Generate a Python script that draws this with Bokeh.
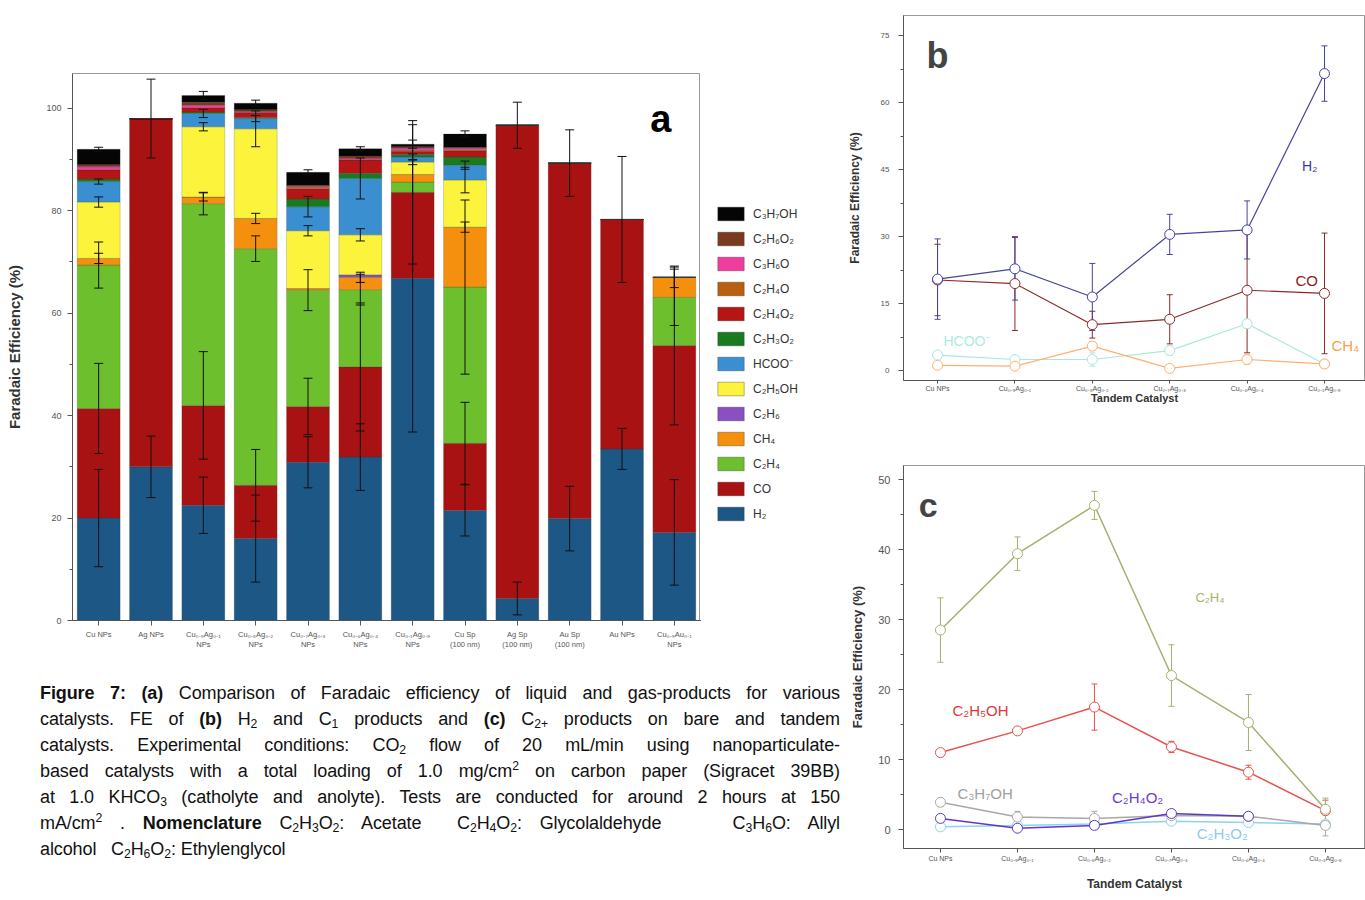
from bokeh.plotting import figure
from bokeh.models import (ColumnDataSource, FactorRange, Range1d, Legend, LegendItem,
                          Whisker, TeeHead, SingleIntervalTicker, FixedTicker, Div, Label)
from bokeh.layouts import row, column
from bokeh.embed import file_html
from bokeh.resources import INLINE

# ---------------- Panel a data ----------------
catalysts_a = ["Cu NPs", "Ag NPs", "Cu₀.₉Ag₀.₁\nNPs", "Cu₀.₈Ag₀.₂\nNPs", "Cu₀.₇Ag₀.₃\nNPs",
               "Cu₀.₆Ag₀.₄\nNPs", "Cu₀.₁Ag₀.₉\nNPs", "Cu Sp\n(100 nm)", "Ag Sp\n(100 nm)",
               "Au Sp\n(100 nm)", "Au NPs", "Cu₀.₉Au₀.₁\nNPs"]
fe_h2     = [20.0, 30.0, 22.5, 16.0, 30.9, 31.9, 66.8, 21.5, 4.3, 19.9, 33.5, 17.2]
fe_co     = [21.4, 68.0, 19.5, 10.4, 10.9, 17.6, 16.8, 13.1, 92.4, 69.4, 44.8, 36.5]
fe_c2h4   = [28.0, 0, 39.4, 46.2, 22.7, 15.1, 2.0, 30.5, 0, 0, 0, 9.4]
fe_ch4    = [1.3, 0, 1.3, 5.9, 0.3, 2.4, 1.5, 11.7, 0, 0, 0, 3.9]
fe_c2h6   = [0, 0, 0, 0, 0, 0.5, 0, 0, 0, 0, 0, 0]
fe_c2h5oh = [11.0, 0, 13.7, 17.5, 11.3, 7.8, 2.4, 9.2, 0, 0, 0, 0]
fe_hcoo   = [4.0, 0, 2.6, 2.0, 4.7, 11.0, 1.0, 2.9, 0, 0, 0, 0]
fe_c2h3o2 = [0.5, 0, 0.3, 0.2, 1.5, 1.0, 0.5, 1.6, 0, 0, 0, 0]
fe_c2h4o2 = [1.8, 0, 0.8, 1.0, 2.0, 2.6, 0.6, 1.2, 0, 0, 0, 0]
fe_c2h4o  = [0, 0, 0, 0, 0.3, 0, 0.2, 0.2, 0, 0, 0, 0]
fe_c3h6o  = [0.6, 0, 0.5, 0.2, 0.2, 0.3, 0.4, 0.3, 0, 0, 0, 0]
fe_c2h6o2 = [0.4, 0, 0.6, 0.3, 0.2, 0.5, 0.3, 0.2, 0, 0, 0, 0]
fe_c3h7oh = [3.0, 0, 1.3, 1.3, 2.5, 1.4, 0.5, 2.6, 0, 0, 0, 0]

err_h2     = [9.5, 6.0, 5.5, 8.5, 5.0, 6.5, 30.0, 5.0, 3.2, 6.3, 4.0, 10.3]
err_co     = [8.8, 7.7, 10.5, 7.0, 5.5, 12.5, 14.0, 8.0, 4.5, 6.5, 12.3, 15.5]
err_c2h4   = [4.5, 0, 2.2, 2.5, 4.0, 3.0, 0, 17.0, 0, 0, 0, 5.5]
err_ch4    = [1.0, 0, 0.8, 1.0, 0, 1.0, 0, 1.0, 0, 0, 0, 2.0]
err_c2h5oh = [1.0, 0, 0.8, 3.5, 1.0, 1.2, 0.5, 2.5, 0, 0, 0, 0]
err_hcoo   = [0.5, 0, 0.8, 0.6, 2.0, 4.0, 0.6, 0.8, 0, 0, 0, 0]
err_c3h7oh = [0.4, 0, 0.8, 0.6, 0.5, 0.4, 0.8, 0.6, 0, 0, 0, 0]

products = ["H2", "CO", "C2H4", "CH4", "C2H6", "C2H5OH", "HCOO", "C2H3O2",
            "C2H4O2", "C2H4O", "C3H6O", "C2H6O2", "C3H7OH"]
product_labels = ["H₂", "CO", "C₂H₄", "CH₄", "C₂H₆", "C₂H₅OH", "HCOO⁻", "C₂H₃O₂",
                  "C₂H₄O₂", "C₂H₄O", "C₃H₆O", "C₂H₆O₂", "C₃H₇OH"]
product_colors = ["#1d5785", "#a81212", "#6dbf2e", "#f5900f", "#8a4fc0", "#fbf33c", "#3a8fd0",
                  "#1a7a22", "#b51515", "#b8600f", "#f03c9c", "#7a3b1c", "#050505"]
values_a = [fe_h2, fe_co, fe_c2h4, fe_ch4, fe_c2h6, fe_c2h5oh, fe_hcoo, fe_c2h3o2,
            fe_c2h4o2, fe_c2h4o, fe_c3h6o, fe_c2h6o2, fe_c3h7oh]
errors_a = {"H2": err_h2, "CO": err_co, "C2H4": err_c2h4, "CH4": err_ch4,
            "C2H5OH": err_c2h5oh, "HCOO": err_hcoo, "C3H7OH": err_c3h7oh}

# ---------------- Panel b data ----------------
tandem_labels = ["Cu NPs", "Cu₀.₉Ag₀.₁", "Cu₀.₈Ag₀.₂", "Cu₀.₇Ag₀.₃", "Cu₀.₆Ag₀.₄", "Cu₀.₁Ag₀.₉"]
b_h2 = [20.5, 22.8, 16.5, 30.5, 31.5, 66.5]
b_h2_err = [9.0, 7.0, 7.5, 4.5, 6.5, 6.2]
b_co = [20.3, 19.5, 10.3, 11.5, 18.0, 17.3]
b_co_err = [8.0, 10.5, 3.0, 5.5, 14.0, 13.5]
b_hcoo = [3.5, 2.5, 2.5, 4.5, 10.5, 1.5]
b_hcoo_err = [0.5, 0.5, 1.5, 1.0, 1.0, 0.5]
b_ch4 = [1.2, 1.0, 5.5, 0.5, 2.5, 1.5]
b_ch4_err = [0.5, 0.5, 1.0, 0.8, 1.0, 0.5]

# ---------------- Panel c data ----------------
c_c2h4 = [28.5, 39.4, 46.3, 22.0, 15.3, 2.9]
c_c2h4_err = [4.6, 2.4, 2.0, 4.4, 4.0, 1.6]
c_c2h5oh = [11.0, 14.1, 17.5, 11.8, 8.2, 2.7]
c_c2h5oh_err = [0.5, 0.5, 3.3, 0.8, 1.0, 1.5]
c_c3h7oh = [3.9, 1.8, 1.6, 2.0, 1.9, 0.6]
c_c3h7oh_err = [0.6, 0.8, 1.0, 0.5, 0.5, 1.5]
c_c2h4o2 = [1.6, 0.2, 0.6, 2.3, 1.9, float("nan")]
c_c2h4o2_err = [0.5, 0.4, 0.4, 0.5, 0.3, 0]
c_c2h3o2 = [0.4, 0.6, 0.8, 1.2, 1.0, 0.8]
c_c2h3o2_err = [0.3, 0.3, 0.3, 0.3, 0.3, 0.3]

FONT = "Liberation Sans"
AX = "#555555"

# ================= Panel a =================
src_a = ColumnDataSource(dict(cat=catalysts_a, **{k: v for k, v in zip(products, values_a)}))
p_a = figure(width=700, height=670, x_range=FactorRange(*catalysts_a, range_padding=0),
             y_range=Range1d(0, 106.8), output_backend="svg", toolbar_location=None,
             min_border_left=72, min_border_right=0, min_border_top=73, min_border_bottom=50)
rs = p_a.vbar_stack(products, x="cat", width=0.82, color=product_colors, source=src_a,
                    line_color="#333333", line_alpha=0.35, line_width=0.6)

cum = [0.0] * len(catalysts_a)
for key, vals in zip(products, values_a):
    cum = [c + v for c, v in zip(cum, vals)]
    if key in errors_a:
        errs = errors_a[key]
        idx = [i for i in range(len(catalysts_a)) if errs[i] > 0]
        ws = ColumnDataSource(dict(x=[catalysts_a[i] for i in idx],
                                   up=[cum[i] + errs[i] for i in idx],
                                   lo=[cum[i] - errs[i] for i in idx]))
        p_a.add_layout(Whisker(source=ws, base="x", upper="up", lower="lo", dimension="height",
                               level="annotation", line_color="#111111", line_width=1,
                               upper_head=TeeHead(size=9, line_color="#111111", line_width=1),
                               lower_head=TeeHead(size=9, line_color="#111111", line_width=1)))

p_a.yaxis.ticker = SingleIntervalTicker(interval=20, num_minor_ticks=2)
p_a.yaxis.axis_label = "Faradaic Efficiency (%)"
p_a.yaxis.axis_label_text_font_size = "15px"
p_a.yaxis.axis_label_standoff = 20
p_a.yaxis.major_label_standoff = 6
p_a.xaxis.major_label_text_font_size = "7.5px"
p_a.xaxis.major_label_standoff = 4
p_a.yaxis.major_label_text_font_size = "9px"
p_a.add_layout(Label(x=11.24, y=98, text="a", text_font=FONT, text_font_style="bold",
                     text_font_size="38px", text_align="center", text_baseline="middle",
                     text_color="#000000"))

# legend for panel a, in its own strip to the right of the frame
p_leg = figure(width=140, height=670, x_range=Range1d(0, 1), y_range=Range1d(0, 1),
               output_backend="svg", toolbar_location=None, min_border=0,
               min_border_top=73, min_border_bottom=50, min_border_left=0, min_border_right=0)
p_leg.axis.visible = False
p_leg.grid.visible = False
p_leg.outline_line_color = None
proxy = ColumnDataSource(dict(x=[-5.0], top=[0.0]))   # legend proxies, kept outside the view
leg_renderers = [p_leg.vbar(x="x", top="top", width=0.5, source=proxy, fill_color=c,
                            line_color="#333333", line_alpha=0.35)
                 for c in product_colors]
legend = Legend(items=[LegendItem(label=product_labels[i], renderers=[leg_renderers[i]])
                       for i in reversed(range(len(products)))],
                location=(14, 98), ncols=1, border_line_color=None, background_fill_alpha=0,
                glyph_width=33, glyph_height=17, label_height=17, spacing=8, padding=0,
                margin=0, label_standoff=6, label_text_font_size="12px",
                label_text_font=FONT, label_text_color="#333333")
p_leg.add_layout(legend)

# ================= Panel b =================
p_b = figure(width=525, height=440, x_range=Range1d(-0.44, 5.53), y_range=Range1d(-2.2, 79.5),
             output_backend="svg", toolbar_location=None,
             min_border_left=53, min_border_right=0, min_border_top=15, min_border_bottom=60)
xs6 = list(range(len(tandem_labels)))
b_series = [(b_hcoo, b_hcoo_err, "#a8e8dc"), (b_ch4, b_ch4_err, "#ffb070"),
            (b_co, b_co_err, "#8b2a2a"), (b_h2, b_h2_err, "#45459e")]
for ys, es, col in b_series:
    p_b.line(xs6, ys, line_color=col, line_width=1.2)
    ws = ColumnDataSource(dict(x=xs6, up=[y + e for y, e in zip(ys, es)], lo=[y - e for y, e in zip(ys, es)]))
    p_b.add_layout(Whisker(source=ws, base="x", upper="up", lower="lo", dimension="height",
                           line_color=col, line_width=1,
                           upper_head=TeeHead(size=6, line_color=col, line_width=1),
                           lower_head=TeeHead(size=6, line_color=col, line_width=1)))
    p_b.scatter(xs6, ys, size=10, marker="circle", fill_color="white", line_color=col, line_width=1)
p_b.yaxis.ticker = SingleIntervalTicker(interval=15, num_minor_ticks=2)
p_b.xaxis.ticker = FixedTicker(ticks=xs6)
p_b.xaxis.major_label_overrides = {i: t for i, t in enumerate(tandem_labels)}
p_b.yaxis.axis_label = "Faradaic Efficiency (%)"
p_b.xaxis.axis_label = "Tandem Catalyst"
p_b.yaxis.axis_label_text_font_size = "12px"
p_b.xaxis.axis_label_text_font_size = "11px"
p_b.xaxis.major_label_text_font_size = "7px"
p_b.yaxis.major_label_text_font_size = "8px"
p_b.yaxis.major_label_standoff = 9
p_b.yaxis.axis_label_standoff = 16
p_b.xaxis.major_tick_out = 3
p_b.xaxis.major_label_standoff = 1
p_b.xaxis.axis_label_standoff = -3
for txt, x, y, col, fs in [("H₂", 4.81, 45.9, "#3a3a9a", "14px"), ("CO", 4.77, 20.1, "#8b1a1a", "15px"),
                           ("HCOO⁻", 0.38, 6.7, "#a8ece0", "14px")]:
    p_b.add_layout(Label(x=x, y=y, text=txt, text_color=col, text_font=FONT, text_font_size=fs,
                         text_align="center", text_baseline="middle"))
p_b.add_layout(Label(x=5.09, y=5.6, text="CH₄", text_color="#f5a050", text_font=FONT,
                     text_font_size="15px", text_align="left", text_baseline="middle"))
p_b.add_layout(Label(x=0.0, y=70.5, text="b", text_font=FONT, text_font_style="bold",
                     text_font_size="36px", text_align="center", text_baseline="middle"))

# ================= Panel c =================
p_c = figure(width=525, height=460, x_range=Range1d(-0.48, 5.52), y_range=Range1d(-2.7, 52.0),
             output_backend="svg", toolbar_location=None,
             min_border_left=63, min_border_right=0, min_border_top=25, min_border_bottom=52)
c_series = [(c_c2h3o2, c_c2h3o2_err, "#90d0f0"), (c_c3h7oh, c_c3h7oh_err, "#a8a8a8"),
            (c_c2h4o2, c_c2h4o2_err, "#5b3bc4"), (c_c2h5oh, c_c2h5oh_err, "#e8524f"),
            (c_c2h4, c_c2h4_err, "#a3b26e")]
for ys, es, col in c_series:
    p_c.line(xs6, ys, line_color=col, line_width=1.5)
    keep = [i for i in xs6 if es[i] > 0 and ys[i] == ys[i]]
    ws = ColumnDataSource(dict(x=keep, up=[ys[i] + es[i] for i in keep], lo=[ys[i] - es[i] for i in keep]))
    p_c.add_layout(Whisker(source=ws, base="x", upper="up", lower="lo", dimension="height",
                           line_color=col, line_width=1,
                           upper_head=TeeHead(size=6, line_color=col, line_width=1),
                           lower_head=TeeHead(size=6, line_color=col, line_width=1)))
    p_c.scatter(xs6, ys, size=10, marker="circle", fill_color="white", line_color=col, line_width=1)
p_c.yaxis.ticker = SingleIntervalTicker(interval=10, num_minor_ticks=2)
p_c.xaxis.ticker = FixedTicker(ticks=xs6)
p_c.xaxis.major_label_overrides = {i: t for i, t in enumerate(tandem_labels)}
p_c.yaxis.axis_label = "Faradaic Efficiency (%)"
p_c.xaxis.axis_label = "Tandem Catalyst"
p_c.yaxis.axis_label_text_font_size = "13px"
p_c.xaxis.axis_label_text_font_size = "12px"
p_c.xaxis.major_label_text_font_size = "7px"
p_c.yaxis.major_label_text_font_size = "11px"
p_c.yaxis.major_label_standoff = 8
p_c.yaxis.axis_label_standoff = 10
p_c.xaxis.major_tick_out = 4
p_c.xaxis.major_label_standoff = 2
p_c.xaxis.axis_label_standoff = 12
for txt, x, y, col, fs in [("C₂H₄", 3.5, 33.1, "#a3b26e", "13px"), ("C₂H₅OH", 0.52, 17.0, "#e03838", "15px"),
                           ("C₃H₇OH", 0.58, 5.1, "#a0a0a0", "15px"), ("C₂H₄O₂", 2.56, 4.6, "#6a3cc8", "15px"),
                           ("C₂H₃O₂", 3.66, -0.6, "#8ccbf0", "15px")]:
    p_c.add_layout(Label(x=x, y=y, text=txt, text_color=col, text_font=FONT, text_font_size=fs,
                         text_align="center", text_baseline="middle"))
p_c.add_layout(Label(x=-0.16, y=46.3, text="c", text_font=FONT, text_font_style="bold",
                     text_font_size="34px", text_align="center", text_baseline="middle"))

# common styling
for p in (p_a, p_b, p_c):
    p.xgrid.visible = False
    p.ygrid.visible = False
    p.outline_line_color = "#999999"
    p.background_fill_color = "white"
    p.border_fill_color = "white"
    for ax in (p.xaxis, p.yaxis):
        ax.axis_line_color = AX
        ax.major_tick_line_color = AX
        ax.minor_tick_line_color = AX
        ax.major_tick_in = 0
        ax.minor_tick_in = 0
        ax.minor_tick_out = 3
        ax.major_label_text_color = "#555555"
        ax.major_label_text_font = FONT
        ax.axis_label_text_font = FONT
        ax.axis_label_text_font_style = "bold"
        ax.axis_label_text_color = "#333333"
    p.yaxis.major_tick_out = 5
p_a.xaxis.major_tick_out = 5
p_b.xaxis.minor_tick_line_color = None
p_c.xaxis.minor_tick_line_color = None

# ================= Caption =================
cap_lines = [
    "<b>Figure 7: (a)</b> Comparison of Faradaic efficiency of liquid and gas-products for various",
    "catalysts. FE of <b>(b)</b> H<sub>2</sub> and C<sub>1</sub> products and <b>(c)</b> C<sub>2+</sub> products on bare and tandem",
    "catalysts. Experimental conditions: CO<sub>2</sub> flow of 20 mL/min using nanoparticulate-",
    "based catalysts with a total loading of 1.0 mg/cm<sup>2</sup> on carbon paper (Sigracet 39BB)",
    "at 1.0 KHCO<sub>3</sub> (catholyte and anolyte). Tests are conducted for around 2 hours at 150",
    "mA/cm<sup>2</sup> . <b>Nomenclature</b> C<sub>2</sub>H<sub>3</sub>O<sub>2</sub>: Acetate&nbsp; C<sub>2</sub>H<sub>4</sub>O<sub>2</sub>: Glycolaldehyde &nbsp;&nbsp; C<sub>3</sub>H<sub>6</sub>O: Allyl",
    "alcohol &nbsp; C<sub>2</sub>H<sub>6</sub>O<sub>2</sub>: Ethylenglycol",
]
line_divs = []
for i, ln in enumerate(cap_lines):
    last = "left" if i == len(cap_lines) - 1 else "justify"
    line_divs.append(f'<div style="height:26px;line-height:26px;white-space:nowrap;'
                     f'text-align:justify;text-align-last:{last};">{ln}</div>')
cap_html = ('<style>sub,sup{font-size:0.68em;line-height:0;}'
            'sub{vertical-align:-0.25em;}sup{vertical-align:0.55em;}</style>'
            '<div style="box-sizing:border-box;width:840px;padding-left:40px;padding-top:10px;color:#111;'
            'letter-spacing:-0.1px;font-family:\'Liberation Sans\',Arial,sans-serif;font-size:18px;">'
            + "".join(line_divs) + "</div>")
caption = Div(text=cap_html, width=840, height=230, margin=0)

left = column(row(p_a, p_leg, spacing=0), caption, spacing=0)
layout = row(left, column(p_b, p_c, spacing=0), spacing=0)
open("out.html", "w").write(file_html(layout, INLINE))
